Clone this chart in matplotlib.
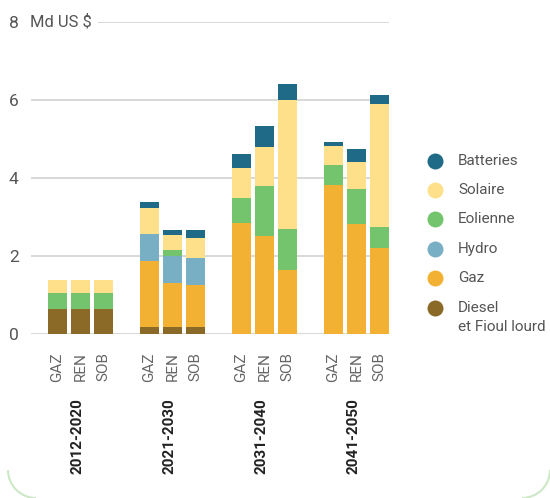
import matplotlib
matplotlib.use("Agg")
import matplotlib.pyplot as plt
from matplotlib.patches import Arc
import numpy as np

plt.rcParams['font.family'] = ['Roboto', 'DejaVu Sans']

periods = ['2012-2020', '2021-2030', '2031-2040', '2041-2050']
scenarios = ['GAZ', 'REN', 'SOB']

# investissements par filiere, en Md US $ (GAZ, REN, SOB pour chaque periode)
diesel = [0.64, 0.64, 0.64, 0.18, 0.18, 0.18, 0, 0, 0, 0, 0, 0]
gaz = [0, 0, 0, 1.69, 1.13, 1.08, 2.85, 2.51, 1.64, 3.82, 2.82, 2.21]
hydro = [0, 0, 0, 0.69, 0.70, 0.69, 0, 0, 0, 0, 0, 0]
eolienne = [0.41, 0.41, 0.41, 0, 0.14, 0, 0.64, 1.28, 1.05, 0.51, 0.90, 0.53]
solaire = [0.33, 0.33, 0.33, 0.67, 0.39, 0.51, 0.77, 1.00, 3.31, 0.49, 0.69, 3.16]
batteries = [0, 0, 0, 0.15, 0.13, 0.21, 0.36, 0.54, 0.41, 0.10, 0.33, 0.23]

series = [
    ('Diesel\net Fioul lourd', diesel, '#8b6a27'),
    ('Gaz', gaz, '#f2b133'),
    ('Hydro', hydro, '#79afc4'),
    ('Eolienne', eolienne, '#74c46e'),
    ('Solaire', solaire, '#fee08b'),
    ('Batteries', batteries, '#1f6b87'),
]

W, H = 550, 498
fig = plt.figure(figsize=(W / 100, H / 100), dpi=100)
ax = fig.add_axes([31 / W, 1 - 334 / H, 358 / W, 312 / H])

x = np.array([4 * g + i for g in range(len(periods)) for i in range(len(scenarios))])
bottom = np.zeros(len(x))
for name, vals, col in series:
    ax.bar(x, vals, width=0.83, bottom=bottom, color=col, zorder=3, linewidth=0)
    bottom += np.array(vals)

ax.set_xlim(-1.15, 14.41)
ax.set_ylim(0, 8)

# grille horizontale
grid_col = '#d6d6d6'
for yv in [0, 2, 4, 6]:
    ax.axhline(yv, color=grid_col, lw=1.3, zorder=1)
ax.axhline(8, xmin=(99 - 31) / 358, color=grid_col, lw=1.3, zorder=1)

for s in ax.spines.values():
    s.set_visible(False)
ax.set_yticks([0, 2, 4, 6, 8])
ax.set_yticklabels(['0', '2', '4', '6', '8'])
ax.tick_params(axis='y', length=0, pad=9, labelsize=12.5, labelcolor='#555555')
ax.set_xticks(x)
ax.set_xticklabels(scenarios * len(periods), rotation=90, va='top')
ax.tick_params(axis='x', length=0, pad=13, labelsize=11, labelcolor='#666666')

# calque pour textes, legende et cadre
ov = fig.add_axes([0, 0, 1, 1])
ov.set_xlim(0, W)
ov.set_ylim(H, 0)
ov.axis('off')

ov.text(30, 22, 'Md US $', fontsize=12, color='#555555', va='center', ha='left')

for g, p in enumerate(periods):
    xc = 57.5 + 23 * (4 * g + 1) - 3
    ov.text(xc, 398, p, rotation=90, ha='center', va='top', fontsize=11,
            fontweight='bold', color='#222222')

leg_y = [308, 278, 249, 219, 190, 161]
for (name, vals, col), yy in zip(series, leg_y):
    ov.plot(435, yy, 'o', ms=11.5, color=col, mec='none')
    lines = name.split('\n')
    ov.text(458, yy, lines[0], fontsize=11, color='#555555', va='center', ha='left')
    if len(lines) > 1:
        ov.text(458, yy + 19, lines[1], fontsize=11, color='#555555', va='center', ha='left')

# coins arrondis du cadre
frame_col = '#cde8c6'
ov.add_patch(Arc((36, 470), 56, 56, theta1=90, theta2=180, color=frame_col, lw=1.5))
ov.add_patch(Arc((522, 470), 56, 56, theta1=0, theta2=90, color=frame_col, lw=1.5))

fig.savefig('out.png', dpi=100)
